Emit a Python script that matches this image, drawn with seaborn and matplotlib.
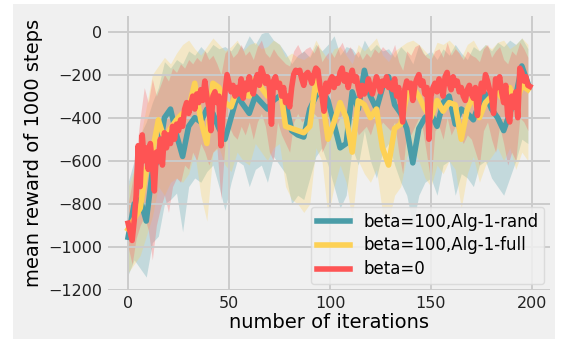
import numpy as np
import pandas as pd
import seaborn as sns
import matplotlib
matplotlib.use("Agg")
import matplotlib.pyplot as plt
from matplotlib.patches import Rectangle

# ---------------- data ----------------
red_mean = [
    -890, -930, -970, -880, -760, -530, -720, -480, -600, -540,
    -640, -520, -610, -740, -560, -600, -500, -620, -470, -540,
    -480, -520, -440, -500, -430, -460, -410, -440, -360, -330,
    -380, -340, -300, -360, -290, -330, -270, -320, -230, -300,
    -350, -460, -300, -280, -330, -300, -530, -380, -280, -200,
    -240, -280, -250, -300, -260, -290, -220, -310, -240, -270,
    -210, -260, -290, -230, -200, -250, -170, -200, -240, -210,
    -260, -430, -230, -210, -260, -240, -300, -260, -330, -300,
    -350, -260, -200, -180, -190, -180, -220, -250, -200, -190,
    -210, -240, -200, -170, -180, -250, -300, -370, -240, -280,
    -230, -210, -260, -220, -240, -190, -170, -230, -200, -260,
    -210, -180, -230, -210, -260, -300, -250, -290, -270, -220,
    -260, -290, -250, -210, -240, -280, -230, -250, -210, -260,
    -240, -270, -220, -300, -260, -340, -420, -270, -230, -260,
    -240, -320, -250, -220, -200, -250, -230, -290, -260, -500,
    -300, -260, -240, -280, -220, -250, -300, -210, -190, -240,
    -270, -210, -250, -230, -280, -260, -300, -320, -270, -250,
    -290, -310, -260, -390, -300, -240, -280, -200, -230, -270,
    -300, -380, -220, -260, -210, -280, -330, -250, -390, -420,
    -300, -350, -280, -400, -170, -190, -230, -210, -250, -255,
]
red_iter = list(range(len(red_mean)))

band_iter = list(range(0, 200, 2))
red_hi = [
    -800, -700, -560, -400, -260, -330, -220, -300, -250, -200,
    -230, -170, -190, -150, -170, -130, -150, -120, -140, -90,
    -130, -110, -150, -200, -100, -80, -120, -100, -60, -110,
    -90, -130, -70, -40, -100, -120, -80, -110, -130, -150,
    -160, -90, -60, -100, -80, -70, -100, -60, -140, -110,
    -90, -120, -80, -50, -100, -70, -110, -90, -130, -100,
    -120, -80, -100, -70, -90, -110, -60, -140, -180, -90,
    -110, -70, -60, -100, -120, -130, -90, -80, -120, -50,
    -110, -80, -100, -130, -90, -110, -120, -140, -80, -60,
    -120, -90, -70, -130, -150, -90, -110, -50, -80, -120,
]
red_lo = [
    -1000, -1080, -960, -900, -860, -920, -1060, -900, -820, -760,
    -840, -720, -680, -700, -620, -640, -560, -600, -520, -560,
    -620, -560, -540, -780, -520, -440, -480, -500, -440, -480,
    -420, -500, -420, -380, -440, -560, -600, -420, -480, -520,
    -560, -420, -380, -420, -400, -420, -380, -400, -560, -520,
    -440, -460, -420, -380, -440, -400, -420, -480, -460, -440,
    -480, -420, -460, -420, -440, -460, -420, -560, -660, -460,
    -480, -440, -400, -460, -580, -700, -460, -440, -500, -400,
    -480, -440, -480, -520, -480, -500, -560, -620, -460, -420,
    -500, -560, -440, -520, -620, -560, -600, -400, -420, -460,
]

sub_iter = list(range(0, 199, 3))
teal_mean = [
    -955, -800, -780, -880, -650, -590, -400, -360, -480, -580,
    -440, -400, -420, -360, -380, -450, -500, -400, -300, -340,
    -380, -300, -330, -360, -320, -300, -330, -460, -480, -490,
    -360, -300, -270, -320, -430, -540, -520, -280, -360, -180,
    -300, -360, -260, -210, -340, -380, -450, -610, -450, -400,
    -380, -440, -330, -300, -430, -360, -380, -410, -330, -290,
    -360, -400, -460, -380, -300, -160, -240,
]
teal_hi = [
    -700, -600, -480, -420, -330, -260, -140, -170, -130, -150,
    -90, -110, -70, -100, -60, -80, -70, -90, -50, -80,
    -20, -60, -10, 0, -40, -60, -100, -150, -110, -90,
    -120, -60, -90, -60, -20, -110, -70, -80, -120, -40,
    -90, -60, -90, -80, -120, -70, -100, -150, -60, -110,
    -90, -130, -80, -110, -60, -100, -130, -70, -90, -60,
    -90, -50, -70, -40, -60, -30, -80,
]
teal_lo = [
    -1130, -1060, -1100, -1140, -980, -950, -800, -780, -750, -930,
    -720, -680, -700, -650, -620, -720, -830, -700, -600, -620,
    -720, -640, -620, -700, -580, -620, -660, -800, -760, -780,
    -680, -580, -540, -620, -720, -820, -760, -540, -620, -460,
    -600, -680, -560, -520, -620, -700, -760, -900, -760, -700,
    -680, -760, -620, -600, -760, -660, -680, -720, -620, -600,
    -680, -720, -760, -680, -600, -500, -520,
]
yellow_mean = [
    -917, -870, -820, -640, -560, -410, -500, -450, -410, -380,
    -360, -240, -410, -520, -240, -260, -330, -350, -270, -290,
    -300, -220, -260, -300, -250, -240, -440, -450, -460, -470,
    -440, -230, -300, -500, -420, -330, -400, -560, -320, -340,
    -400, -360, -540, -620, -450, -430, -300, -260, -300, -360,
    -400, -320, -370, -330, -340, -500, -360, -300, -400, -330,
    -300, -280, -320, -260, -340, -250, -270,
]
yellow_hi = [
    -720, -640, -500, -350, -200, -160, -120, -150, -100, -60,
    -40, -80, -110, -70, -30, -60, -90, -70, -40, -90,
    -60, -50, -80, -70, -40, -60, -120, -100, -120, -130,
    -110, -40, -90, -130, -80, -70, -110, -150, -60, -90,
    -60, -30, -110, -140, -90, -70, -50, -40, -60, -90,
    -120, -50, -60, -40, -70, -120, -60, -40, -90, -60,
    -80, -50, -40, -80, -60, -30, -60,
]
yellow_lo = [
    -1120, -1080, -1040, -950, -860, -720, -760, -700, -680, -700,
    -660, -560, -760, -880, -560, -540, -620, -650, -560, -600,
    -620, -520, -560, -600, -540, -520, -720, -780, -800, -840,
    -800, -540, -600, -860, -720, -620, -700, -880, -600, -660,
    -700, -640, -840, -880, -760, -720, -580, -540, -600, -680,
    -720, -620, -660, -600, -640, -820, -660, -580, -700, -620,
    -580, -540, -600, -540, -640, -560, -600,
]

labels = ["beta=100,Alg-1-rand", "beta=100,Alg-1-full", "beta=0"]
colors = ["#4a9da8", "#fdd155", "#fe5454"]
x_ticks = [0, 50, 100, 150, 200]
y_ticks = [0, -200, -400, -600, -800, -1000, -1200]

# ---------------- style ----------------
plt.rcParams.update({
    "font.family": ["DejaVu Sans"],
    "axes.facecolor": "#f0f0f0",
    "axes.edgecolor": "#f0f0f0",
    "axes.grid": True,
    "grid.color": "#cbcbcb",
    "grid.linewidth": 1.4,
    "xtick.major.size": 0,
    "ytick.major.size": 0,
})

fig = plt.figure(figsize=(5.62, 3.39), dpi=100, facecolor="white")
fig.patches.append(Rectangle((13 / 562, 0), (555 - 13) / 562, 1 - 4 / 339,
                             transform=fig.transFigure, facecolor="#f0f0f0",
                             edgecolor="none", zorder=-10))
ax = fig.add_axes([108 / 562, 1 - 290 / 339, (550 - 108) / 562, (290 - 16) / 339])
ax.set_facecolor("#f0f0f0")
for s in ax.spines.values():
    s.set_visible(False)

ax.fill_between(sub_iter, teal_lo, teal_hi, color=colors[0], alpha=0.27, linewidth=0)
ax.fill_between(sub_iter, yellow_lo, yellow_hi, color=colors[1], alpha=0.27, linewidth=0)
ax.fill_between(band_iter, red_lo, red_hi, color=colors[2], alpha=0.27, linewidth=0)

df_teal = pd.DataFrame({"it": sub_iter, "v": teal_mean})
df_yel = pd.DataFrame({"it": sub_iter, "v": yellow_mean})
df_red = pd.DataFrame({"it": red_iter, "v": red_mean})
sns.lineplot(data=df_teal, x="it", y="v", ax=ax, color=colors[0], linewidth=4, label=labels[0])
sns.lineplot(data=df_yel, x="it", y="v", ax=ax, color=colors[1], linewidth=4, label=labels[1])
sns.lineplot(data=df_red, x="it", y="v", ax=ax, color=colors[2], linewidth=4, label=labels[2])

ax.set_xlim(-9.95, 208.95)
ax.set_ylim(-1200, 72)
ax.set_xticks(x_ticks)
ax.set_yticks(y_ticks)
ax.set_yticklabels([f"\u2212{abs(t)}" if t < 0 else str(t) for t in y_ticks])
ax.tick_params(labelsize=11.5, colors="#222222", pad=4)
ax.set_xlabel("number of iterations", fontsize=14, labelpad=2)
ax.set_ylabel("mean reward of 1000 steps", fontsize=14, labelpad=4)
ax.grid(True, color="#cbcbcb", linewidth=1.4)

leg = ax.legend(loc="lower right", fontsize=12, frameon=True, fancybox=True,
                facecolor="#f0f0f0", edgecolor="#d8d8d8", framealpha=0.85,
                handlelength=2.0, handletextpad=0.8, labelspacing=0.35,
                borderpad=0.35, borderaxespad=0.35)

fig.savefig("out.png", dpi=100, facecolor=fig.get_facecolor())
